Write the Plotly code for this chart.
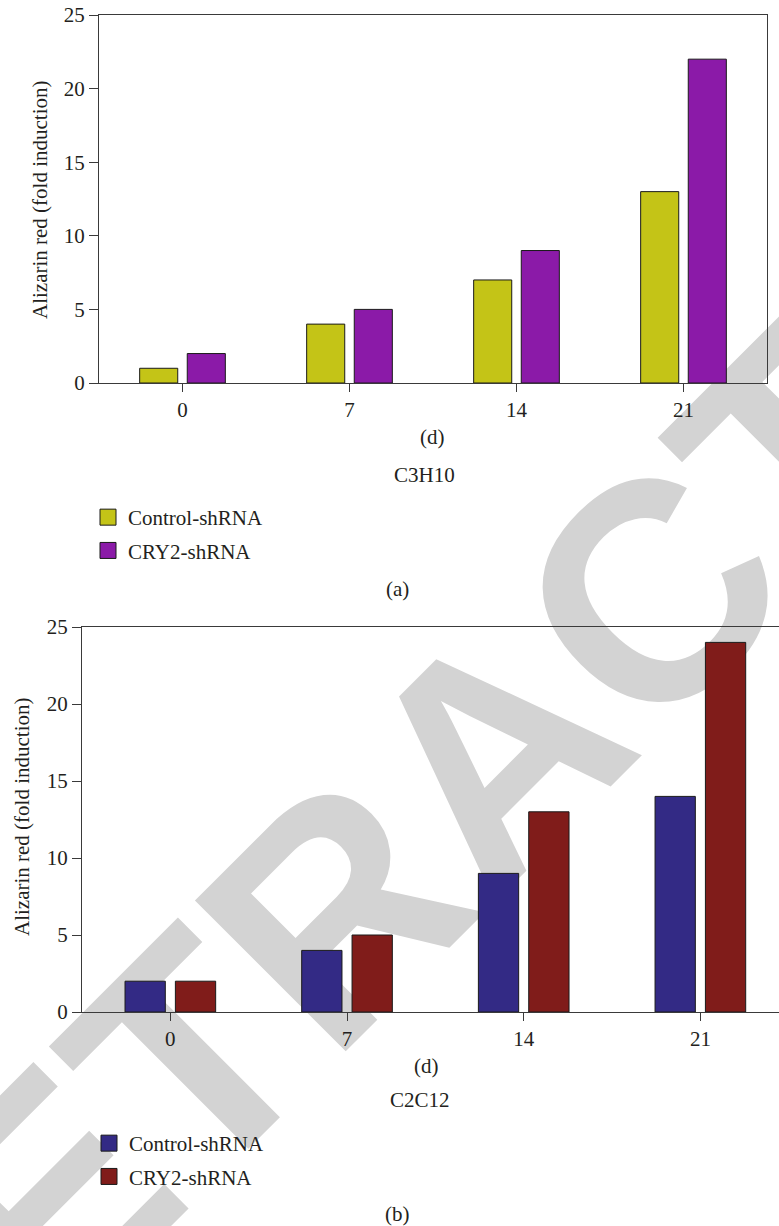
import plotly.graph_objects as go

# ---- data ----
days = ["0", "7", "14", "21"]
c3h10_control = [1, 4, 7, 13]
c3h10_cry2 = [2, 5, 9, 22]
c2c12_control = [2, 4, 9, 14]
c2c12_cry2 = [2, 5, 13, 24]
series_names = ["Control-shRNA", "CRY2-shRNA"]
y_ticks = [0, 5, 10, 15, 20, 25]

W, H = 779, 1226
FONT = "Liberation Serif"
FS = 21
TXT = "#231f20"
AX = "#3a3a3a"

col_top = ["#c4c417", "#8b1aa8"]
col_bot = ["#332a85", "#801c1a"]

def px(xp):
    return xp / W

def py(yp):
    return 1 - yp / H

fig = go.Figure()

# bars
for vals, name, col in [(c3h10_control, series_names[0], col_top[0]),
                        (c3h10_cry2, series_names[1], col_top[1])]:
    fig.add_trace(go.Bar(x=days, y=vals, name=name, marker=dict(color=col, line=dict(color="#1a1a1a", width=1)),
                         xaxis="x", yaxis="y", showlegend=False))
for vals, name, col in [(c2c12_control, series_names[0], col_bot[0]),
                        (c2c12_cry2, series_names[1], col_bot[1])]:
    fig.add_trace(go.Bar(x=days, y=vals, name=name, marker=dict(color=col, line=dict(color="#1a1a1a", width=1)),
                         xaxis="x2", yaxis="y2", showlegend=False))

# legend proxies
for i, (name, col) in enumerate(zip(series_names, col_top)):
    fig.add_trace(go.Scatter(x=[None], y=[None], mode="markers", name=name, legend="legend",
                             legendgroup="t%d" % i,
                             marker=dict(symbol="square", size=19, color=col, line=dict(color="#1a1a1a", width=1)),
                             xaxis="x", yaxis="y"))
for i, (name, col) in enumerate(zip(series_names, col_bot)):
    fig.add_trace(go.Scatter(x=[None], y=[None], mode="markers", name=name, legend="legend2",
                             legendgroup="b%d" % i,
                             marker=dict(symbol="square", size=19, color=col, line=dict(color="#1a1a1a", width=1)),
                             xaxis="x2", yaxis="y2"))

axis_common = dict(showline=True, linecolor=AX, linewidth=1.3, ticks="outside", tickcolor=AX,
                   tickfont=dict(family=FONT, size=FS, color=TXT), showgrid=False, zeroline=False,
                   automargin=False)

fig.update_layout(
    width=W, height=H,
    margin=dict(l=0, r=0, t=0, b=0, autoexpand=False),
    paper_bgcolor="white", plot_bgcolor="rgba(0,0,0,0)",
    barmode="group", bargap=0.43, bargroupgap=0.2,
    font=dict(family=FONT, size=FS, color=TXT),
    xaxis=dict(domain=[px(99), px(767)], anchor="y", type="category", mirror=True, ticklen=8,
               range=[-0.5, 3.5], **axis_common),
    yaxis=dict(domain=[py(383), py(15)], anchor="x", range=[0, 25], tickvals=y_ticks, mirror=True,
               ticklen=9, **axis_common),
    xaxis2=dict(domain=[px(82), 1], anchor="y2", type="category", mirror=True, ticklen=8,
                range=[-0.5, 3.445], **axis_common),
    yaxis2=dict(domain=[py(1012), py(627)], anchor="x2", range=[0, 25], tickvals=y_ticks, mirror=False,
                ticklen=9, **axis_common),
    legend=dict(x=px(88), y=py(497), xanchor="left", yanchor="top", bgcolor="rgba(0,0,0,0)",
                font=dict(family=FONT, size=FS, color=TXT), tracegroupgap=3, itemsizing="trace"),
    legend2=dict(x=px(89), y=py(1123), xanchor="left", yanchor="top", bgcolor="rgba(0,0,0,0)",
                 font=dict(family=FONT, size=FS, color=TXT), tracegroupgap=3, itemsizing="trace"),
)

ann = []
def text(x, y, t, angle=0):
    ann.append(dict(x=px(x), y=py(y), xref="paper", yref="paper", text=t, showarrow=False,
                    xanchor="center", yanchor="middle", textangle=angle,
                    font=dict(family=FONT, size=FS, color=TXT)))

text(40, 200, "Alizarin red (fold induction)", -90)
text(432, 437, "(d)")
text(424, 475, "C3H10")
text(397, 589, "(a)")
text(22, 817, "Alizarin red (fold induction)", -90)
text(427, 1066, "(d)")
text(420, 1100, "C2C12")
text(397, 1214, "(b)")
fig.update_layout(annotations=ann)

# retraction watermark, drawn beneath the data
cx, cy = px(472), py(732)
fig.add_shape(type="rect", xref="paper", yref="paper", x0=cx - 0.01, x1=cx + 0.01, y0=cy - 0.01, y1=cy + 0.01,
              layer="below", line=dict(width=0), fillcolor="rgba(0,0,0,0)",
              label=dict(text="RETRACTED", textangle=-45, textposition="middle center",
                         font=dict(family="Liberation Sans", size=310, color="#d3d3d3", weight="bold")))

fig.write_html("out.html", config={"displayModeBar": False},
               post_script="document.body.style.margin='0';")
